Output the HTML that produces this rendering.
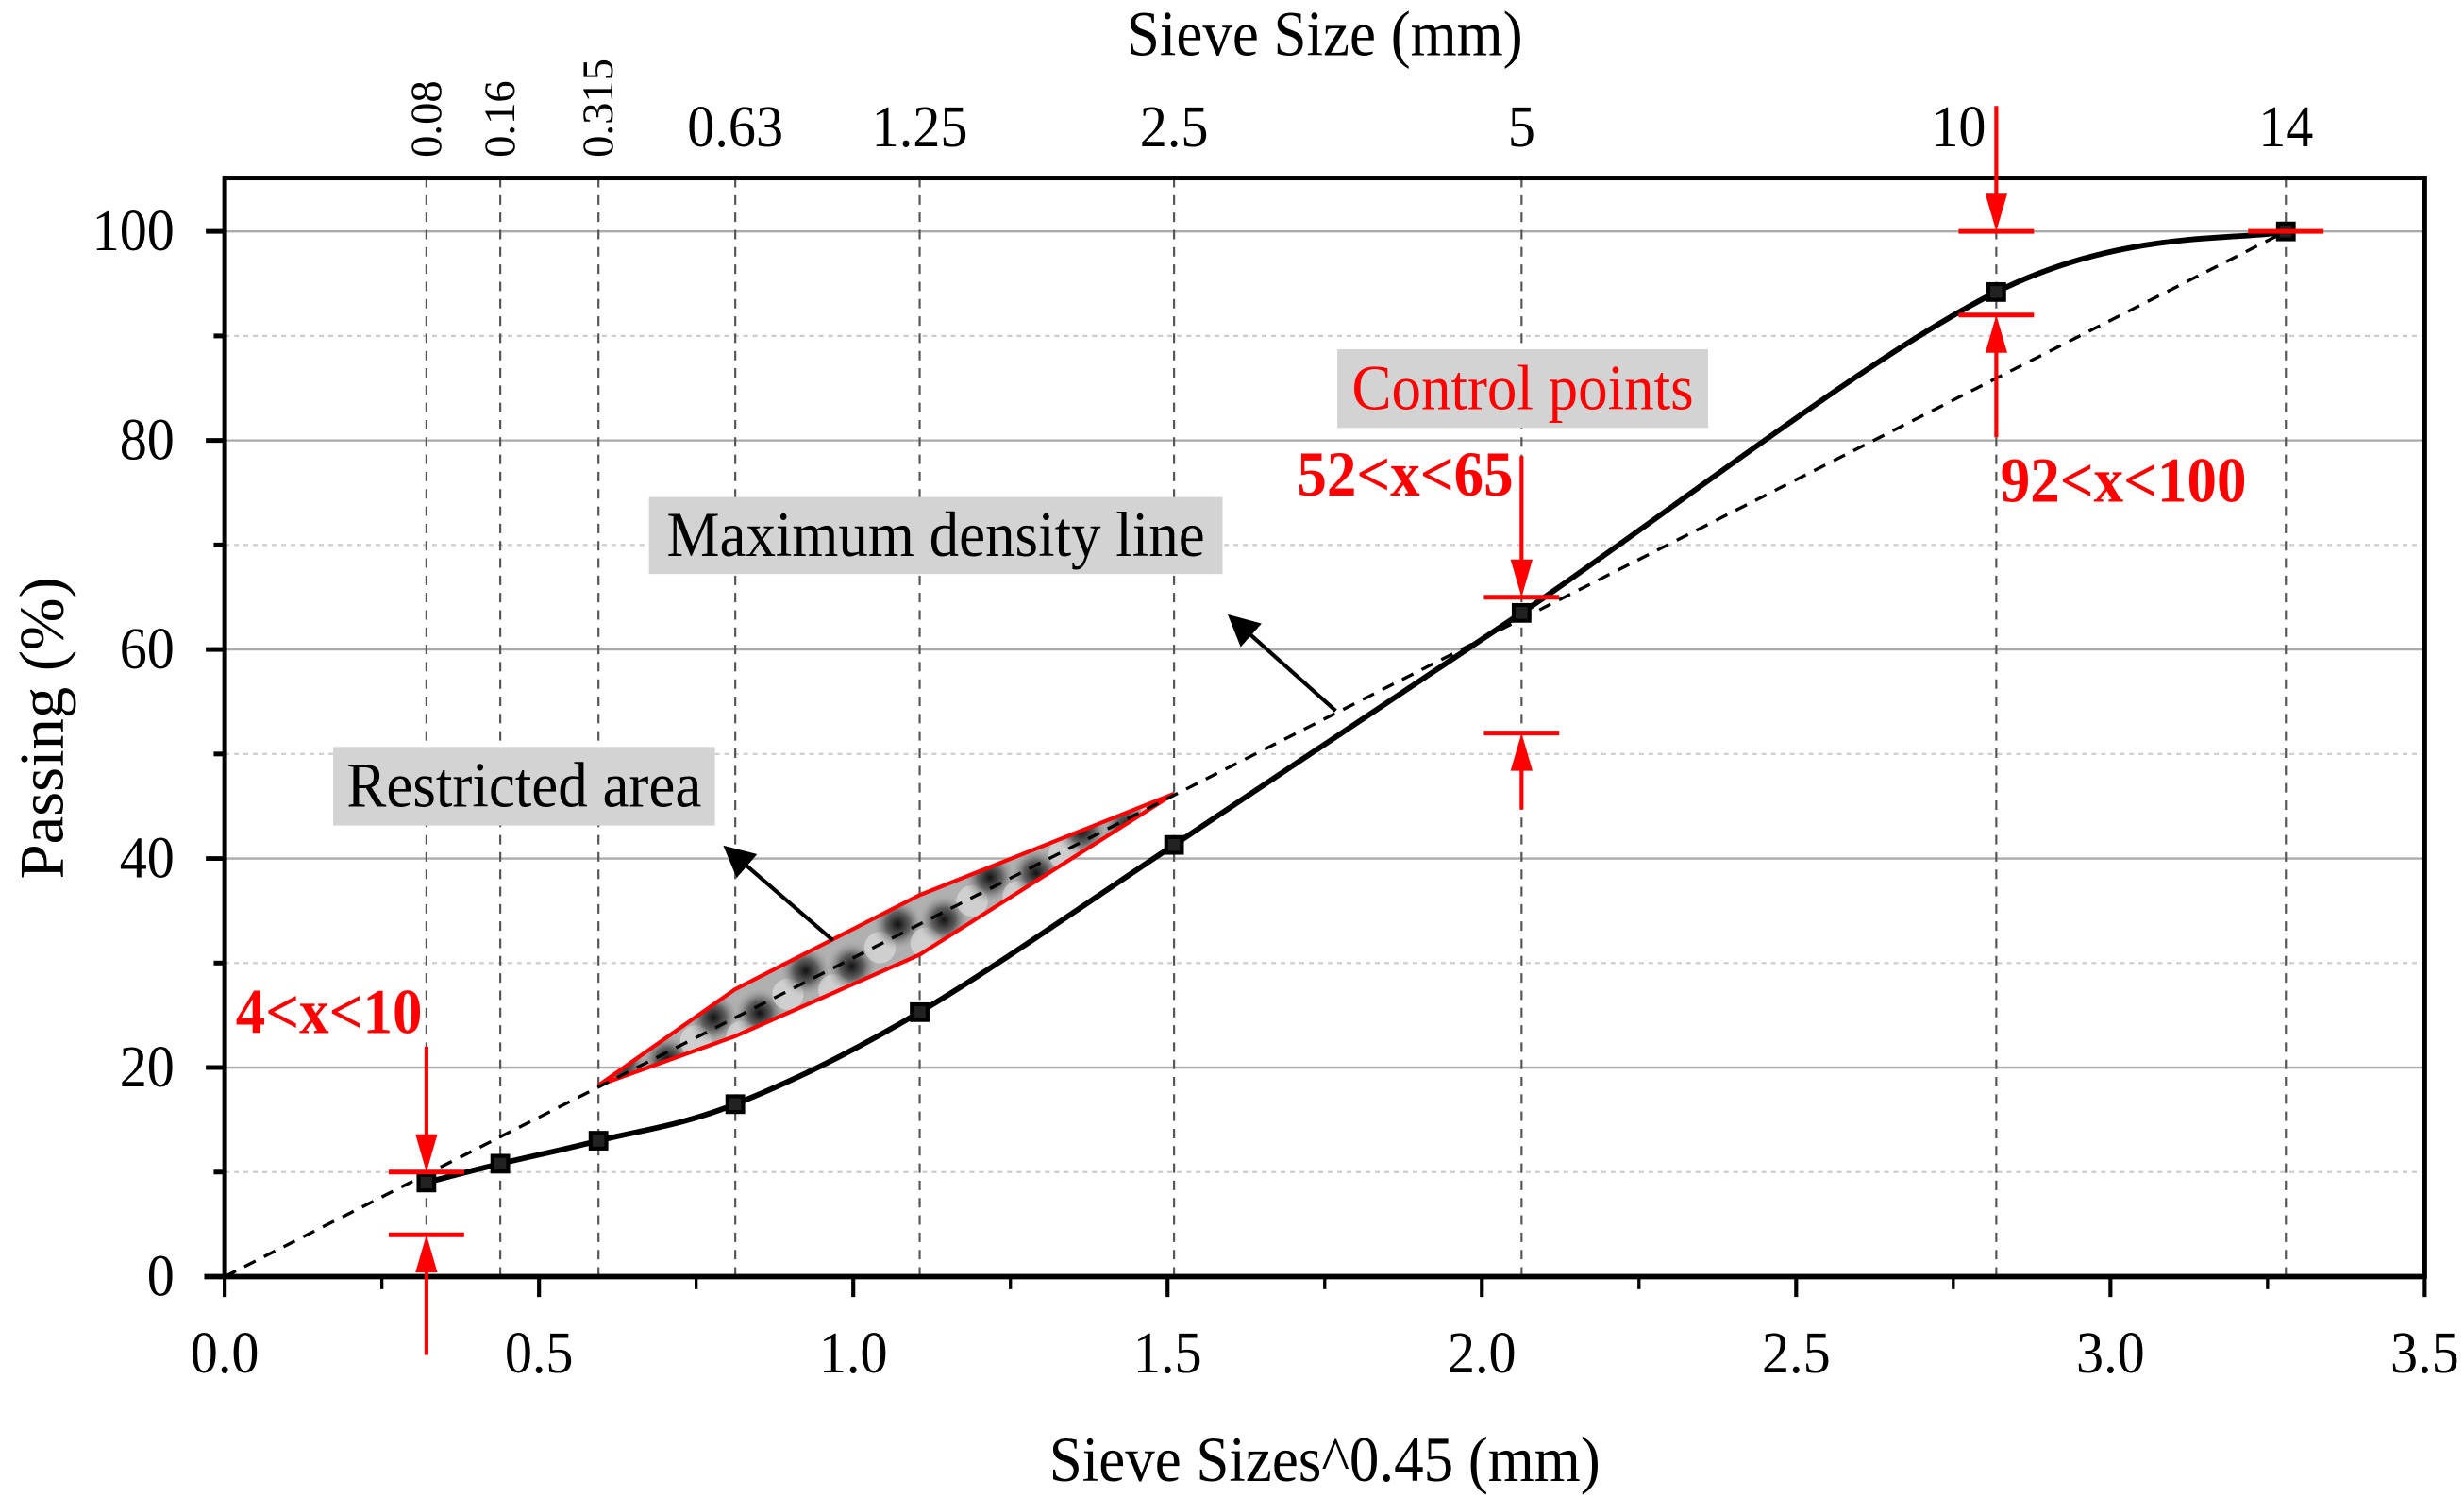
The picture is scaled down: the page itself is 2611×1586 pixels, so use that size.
<!DOCTYPE html>
<html><head><meta charset="utf-8"><style>
html,body{margin:0;padding:0;background:#fff;}
svg{display:block;font-family:"Liberation Serif",serif;}
</style></head><body>
<svg id="chart" width="2611" height="1586" viewBox="0 0 1568 952" xmlns="http://www.w3.org/2000/svg">
<defs>
<radialGradient id="spot"><stop offset="0" stop-color="#000"/><stop offset="0.45" stop-color="#555"/><stop offset="1" stop-color="#bbb" stop-opacity="0"/></radialGradient>
<marker id="ah" markerWidth="8" markerHeight="8" refX="6" refY="4" orient="auto" markerUnits="strokeWidth"><path d="M0,0 L8,4 L0,8 Z" fill="#000"/></marker>
</defs>
<g id="grid"></g>
<g id="restricted"></g>
<g id="lines"></g>
<g id="axes"></g>
<g id="annot"></g>
</svg>
<script>
const sieveSizes = [0.08, 0.16, 0.315, 0.63, 1.25, 2.5, 5, 10, 14];
const sieveLabels = ["0.08", "0.16", "0.315", "0.63", "1.25", "2.5", "5", "10", "14"];
const passing = [9, 10.8, 13, 16.5, 25.3, 41.3, 63.5, 94.2, 100];
const restrictedUpper = [18.3, 27.5, 36.5, 46.2];
const restrictedLower = [18.3, 23.0, 30.8, 46.2];
const restrictedIdx = [2, 3, 4, 5];
const controlSieveIdx = [0, 6, 7];
const controlLow = [4, 52, 92];
const controlHigh = [10, 65, 100];
const controlLabels = ["4<x<10", "52<x<65", "92<x<100"];
const xTicks = [0, 0.5, 1.0, 1.5, 2.0, 2.5, 3.0, 3.5];
const xTickLabels = ["0.0", "0.5", "1.0", "1.5", "2.0", "2.5", "3.0", "3.5"];
const yTicks = [0, 20, 40, 60, 80, 100];
const yMinor = [10, 30, 50, 70, 90];

const NS = "http://www.w3.org/2000/svg";
const X0 = 143, XW = 400, Y0 = 812, YH = 6.65;
const SX = 0.97;
function sx(v){ return X0 + v * XW; }
function sy(v){ return Y0 - v * YH; }
function pw(s){ return Math.pow(s, 0.45); }
function mk(tag, attrs, parent){ const e = document.createElementNS(NS, tag); for (const k in attrs) e.setAttribute(k, attrs[k]); parent.appendChild(e); return e; }
function txt(parent, x, y, size, str, anchor, extra, rot){
  const a = {x:0, y:0, 'font-size':size, 'text-anchor':anchor || 'start', transform:'translate(' + x + ',' + y + ')' + (rot ? ' rotate(' + rot + ')' : '') + ' scale(' + SX + ',1.05)'};
  for (const k in (extra || {})) a[k] = extra[k];
  const t = mk('text', a, parent); t.textContent = str; return t;
}
const gGrid = document.getElementById('grid'), gR = document.getElementById('restricted'), gL = document.getElementById('lines'), gA = document.getElementById('axes'), gN = document.getElementById('annot');

yTicks.forEach(v => { if (v === 0) return; const l = mk('line', {x1:143, x2:1543, y1:sy(v), y2:sy(v), stroke:'#aaa', 'stroke-width':1.4}, gGrid);

 });
yMinor.forEach(v => { const l = mk('line', {x1:143, x2:1543, y1:sy(v), y2:sy(v), stroke:'#ccc', 'stroke-width':1.3, 'stroke-dasharray':'3 3'}, gGrid);

 });
sieveSizes.forEach(s => { const l = mk('line', {x1:sx(pw(s)), x2:sx(pw(s)), y1:113, y2:812, stroke:'#555', 'stroke-width':1.3, 'stroke-dasharray':'6 5'}, gGrid);

 });

let pts = [];
restrictedIdx.forEach((i, k) => pts.push(sx(pw(sieveSizes[i])) + ',' + sy(restrictedUpper[k])));
for (let k = restrictedIdx.length - 1; k >= 0; k--) pts.push(sx(pw(sieveSizes[restrictedIdx[k]])) + ',' + sy(restrictedLower[k]));
const poly = mk('polygon', {points: pts.join(' '), fill:'#b0b0b0', stroke:'none'}, gR);


const cp = mk('clipPath', {id:'rclip'}, gR); mk('polygon', {points: pts.join(' ')}, cp);
const spots = mk('g', {'clip-path':'url(#rclip)'}, gR);
for (let t = 0.04; t < 1; t += 0.08) {
  const xv = pw(sieveSizes[2]) + t * (pw(sieveSizes[5]) - pw(sieveSizes[2]));
  const yv = 18.3 + t * (46.2 - 18.3);
  const off = ((t * 100) % 16 < 8) ? -6 : 6;
  mk('circle', {cx:sx(xv), cy:sy(yv) + off, r:17, fill:'url(#spot)', opacity:0.9}, spots);
  mk('circle', {cx:sx(xv) + 18, cy:sy(yv) - off, r:10, fill:'#eee', opacity:0.5}, spots);
}
const rOut = mk('polygon', {points: pts.join(' '), fill:'none', stroke:'#f00', 'stroke-width':2.5}, gR);



const mdl = mk('line', {x1:sx(0), y1:sy(0), x2:sx(pw(sieveSizes[8])), y2:sy(100), stroke:'#000', 'stroke-width':2, 'stroke-dasharray':'8 6'}, gL);



const P = sieveSizes.map((s, i) => [sx(pw(s)), sy(passing[i])]);
let d = 'M' + P[0][0] + ',' + P[0][1];
for (let i = 0; i < P.length - 1; i++) {
  const p0 = P[Math.max(0, i-1)], p1 = P[i], p2 = P[i+1], p3 = P[Math.min(P.length-1, i+2)];
  const c1 = [p1[0] + (p2[0]-p0[0])/6, p1[1] + (p2[1]-p0[1])/6];
  const c2 = [p2[0] - (p3[0]-p1[0])/6, p2[1] - (p3[1]-p1[1])/6];
  d += ' C' + c1 + ' ' + c2 + ' ' + p2;
}
const curve = mk('path', {d:d, fill:'none', stroke:'#000', 'stroke-width':3.5}, gL);


P.forEach(p => { const r = mk('rect', {x:p[0]-5, y:p[1]-5, width:10, height:10, fill:'#222', stroke:'#000', 'stroke-width':2.5}, gL);

 });

const frame = mk('rect', {x:143, y:113, width:1400, height:699, fill:'none', stroke:'#000', 'stroke-width':3}, gA);


mk('line', {x1:130, x2:1543, y1:812, y2:812, stroke:'#000', 'stroke-width':3.5}, gA);
xTicks.forEach((v, i) => {
  mk('line', {x1:sx(v), x2:sx(v), y1:812, y2:825, stroke:'#000', 'stroke-width':2.5}, gA);
  if (i < xTicks.length-1) mk('line', {x1:sx(v+0.25), x2:sx(v+0.25), y1:812, y2:820, stroke:'#000', 'stroke-width':2}, gA);
  const t = txt(gA, sx(v), 873, 36, xTickLabels[i], 'middle');
  
  
});
yTicks.forEach(v => {
  mk('line', {x1:131, x2:143, y1:sy(v), y2:sy(v), stroke:'#000', 'stroke-width':3}, gA);
  const t = txt(gA, 111, sy(v) + 12, 36, String(v), 'end');
  
  
});
yMinor.forEach(v => mk('line', {x1:136, x2:143, y1:sy(v), y2:sy(v), stroke:'#000', 'stroke-width':3}, gA));
sieveSizes.forEach((s, i) => {
  const x = sx(pw(s));
  let t;
  if (i < 3) t = mk('text', {x:0, y:0, 'font-size':28, transform:'translate(' + (x+9) + ',100) rotate(-90)'}, gA), t.textContent = sieveLabels[i];
  else t = txt(gA, i === 7 ? x - 24 : x, 93, 36, sieveLabels[i], 'middle');
  
  
});
let tt = txt(gA, 843, 35, 39, 'Sieve Size (mm)', 'middle');


tt = txt(gA, 843, 942, 39, 'Sieve Sizes^0.45 (mm)', 'middle');


tt = mk('text', {x:0, y:0, 'font-size':40, 'text-anchor':'middle', transform:'translate(40,463) rotate(-90)'}, gA); tt.textContent = 'Passing (%)';



const labelPos = [[150, 657, 'start'], [963, 315, 'end'], [1273, 319, 'start']];
const arrowTop = [22, 78.5, 112], arrowBot = [-7.5, 44.7, 80.3];
controlSieveIdx.forEach((si, k) => {
  const x = sx(pw(sieveSizes[si]));
  const g = mk('g', {}, gN);
  
  
  mk('line', {x1:x-24, x2:x+24, y1:sy(controlHigh[k]), y2:sy(controlHigh[k]), stroke:'#f00', 'stroke-width':3}, g);
  mk('line', {x1:x-24, x2:x+24, y1:sy(controlLow[k]), y2:sy(controlLow[k]), stroke:'#f00', 'stroke-width':3}, g);
  const yh = sy(controlHigh[k]), yl = sy(controlLow[k]);
  mk('line', {x1:x, x2:x, y1:sy(arrowTop[k]), y2:yh-20, stroke:'#f00', 'stroke-width':2.5}, g);
  mk('polygon', {points:(x-7)+','+(yh-24)+' '+(x+7)+','+(yh-24)+' '+x+','+yh, fill:'#f00'}, g);
  mk('line', {x1:x, x2:x, y1:sy(arrowBot[k]), y2:yl+20, stroke:'#f00', 'stroke-width':2.5}, g);
  mk('polygon', {points:(x-7)+','+(yl+24)+' '+(x+7)+','+(yl+24)+' '+x+','+yl, fill:'#f00'}, g);
  const t = txt(gN, labelPos[k][0], labelPos[k][1], 39, controlLabels[k], labelPos[k][2], {'font-weight':'bold', fill:'#f00'});
  
  
});
const cap14 = mk('line', {x1:sx(pw(14))-24, x2:sx(pw(14))+24, y1:sy(100), y2:sy(100), stroke:'#f00', 'stroke-width':3}, gN);



function box(x, y, w, h, str, color, name){
  const g = mk('g', {}, gN);
  
  
  mk('rect', {x:x, y:y, width:w, height:h, fill:'#d3d3d3'}, g);
  txt(g, x + w/2, y + h/2 + 13, 39, str, 'middle', {fill:color});
}
box(851, 222, 236, 50, 'Control points', '#f00', 'control-points-label');
box(413, 316, 365, 49, 'Maximum density line', '#000', 'max-density-label');
box(212, 475, 243, 50, 'Restricted area', '#000', 'restricted-area-label');
mk('line', {x1:850, y1:452, x2:785, y2:394, stroke:'#000', 'stroke-width':2.5, 'marker-end':'url(#ah)'}, gN);
mk('line', {x1:530, y1:598, x2:464, y2:541, stroke:'#000', 'stroke-width':2.5, 'marker-end':'url(#ah)'}, gN);
</script>
</body></html>
